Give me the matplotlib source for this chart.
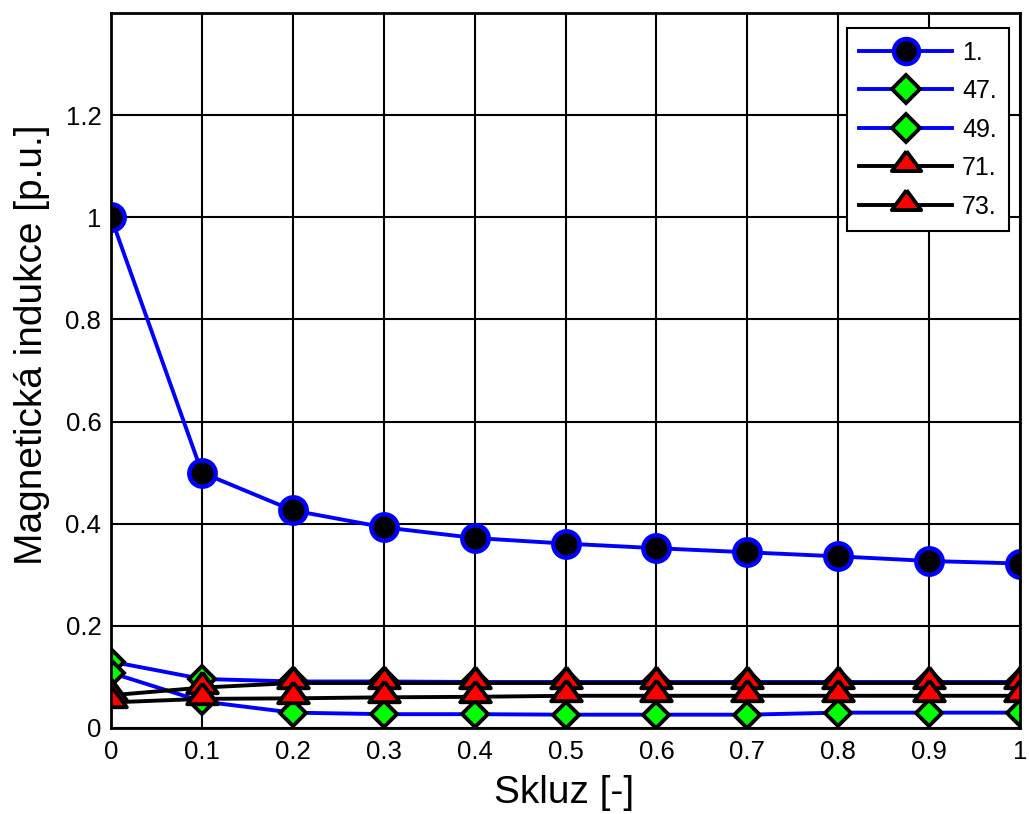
import matplotlib
matplotlib.use("Agg")
import matplotlib.pyplot as plt

plt.rcParams['font.family'] = ['Liberation Sans', 'DejaVu Sans']

slip = [0.0, 0.1, 0.2, 0.3, 0.4, 0.5, 0.6, 0.7, 0.8, 0.9, 1.0]
h1 = [1.0, 0.5, 0.426, 0.393, 0.372, 0.361, 0.352, 0.344, 0.336, 0.327, 0.322]
h47 = [0.13, 0.096, 0.091, 0.091, 0.090, 0.090, 0.090, 0.090, 0.090, 0.090, 0.090]
h49 = [0.108, 0.052, 0.030, 0.027, 0.027, 0.026, 0.026, 0.026, 0.030, 0.030, 0.030]
h71 = [0.064, 0.079, 0.088, 0.088, 0.088, 0.088, 0.088, 0.088, 0.088, 0.088, 0.088]
h73 = [0.050, 0.057, 0.058, 0.060, 0.061, 0.063, 0.063, 0.063, 0.063, 0.063, 0.063]
labels = ['1.', '47.', '49.', '71.', '73.']
xticks = [0, 0.1, 0.2, 0.3, 0.4, 0.5, 0.6, 0.7, 0.8, 0.9, 1.0]
xticklabels = ['0', '0.1', '0.2', '0.3', '0.4', '0.5', '0.6', '0.7', '0.8', '0.9', '1']
yticks = [0, 0.2, 0.4, 0.6, 0.8, 1.0, 1.2]
yticklabels = ['0', '0.2', '0.4', '0.6', '0.8', '1', '1.2']

# triangle inscribed in a circle around the data point
tri = [(0, 1), (-0.957, -0.296), (0.957, -0.296), (0, 1)]

fig = plt.figure(figsize=(10.29, 8.14), dpi=100)
ax = fig.add_axes([0.1079, 0.1057, 0.8834, 0.8783])

lw = 2.8
ax.plot(slip, h1, color='#0000ff', lw=lw, marker='o', ms=19, mfc='black',
        mec='#0000ff', mew=3.2, label=labels[0])
ax.plot(slip, h47, color='#0000ff', lw=lw, marker='D', ms=13, mfc='#00ff00',
        mec='black', mew=2.8, label=labels[1])
ax.plot(slip, h49, color='#0000ff', lw=lw, marker='D', ms=13, mfc='#00ff00',
        mec='black', mew=2.8, label=labels[2])
ax.plot(slip, h71, color='black', lw=lw, marker=tri, ms=23, mfc='#ff0000',
        mec='black', mew=2.8, label=labels[3])
ax.plot(slip, h73, color='black', lw=lw, marker=tri, ms=23, mfc='#ff0000',
        mec='black', mew=2.8, label=labels[4])

ax.set_xlim(0, 1)
ax.set_ylim(0, 1.4)
ax.set_xticks(xticks)
ax.set_xticklabels(xticklabels)
ax.set_yticks(yticks)
ax.set_yticklabels(yticklabels)
ax.tick_params(direction='in', length=0, labelsize=18.5)
ax.tick_params(axis='y', pad=7)
ax.tick_params(axis='x', pad=9)
ax.grid(True, color='black', lw=1.5, ls='-')
ax.set_axisbelow(True)
for sp in ax.spines.values():
    sp.set_linewidth(2)
    sp.set_color('black')

ax.set_xlabel('Skluz [-]', fontsize=28)
ax.xaxis.set_label_coords(0.498, -0.066)
ax.set_ylabel('Magnetická indukce [p.u.]', fontsize=28)
ax.yaxis.set_label_coords(-0.067, 0.536)

leg = ax.legend(loc='upper right', bbox_to_anchor=(0.988, 0.979), fontsize=18,
                fancybox=False, framealpha=1, edgecolor='black',
                handlelength=3.7, borderpad=0.5, labelspacing=0.58,
                handletextpad=0.4, borderaxespad=0)
leg.get_frame().set_linewidth(1.5)
handle_ms = [18, 14.5, 14.5, 22, 22]
for line, m in zip(leg.get_lines(), handle_ms):
    line.set_markersize(m)

fig.savefig('out.png', dpi=100)
